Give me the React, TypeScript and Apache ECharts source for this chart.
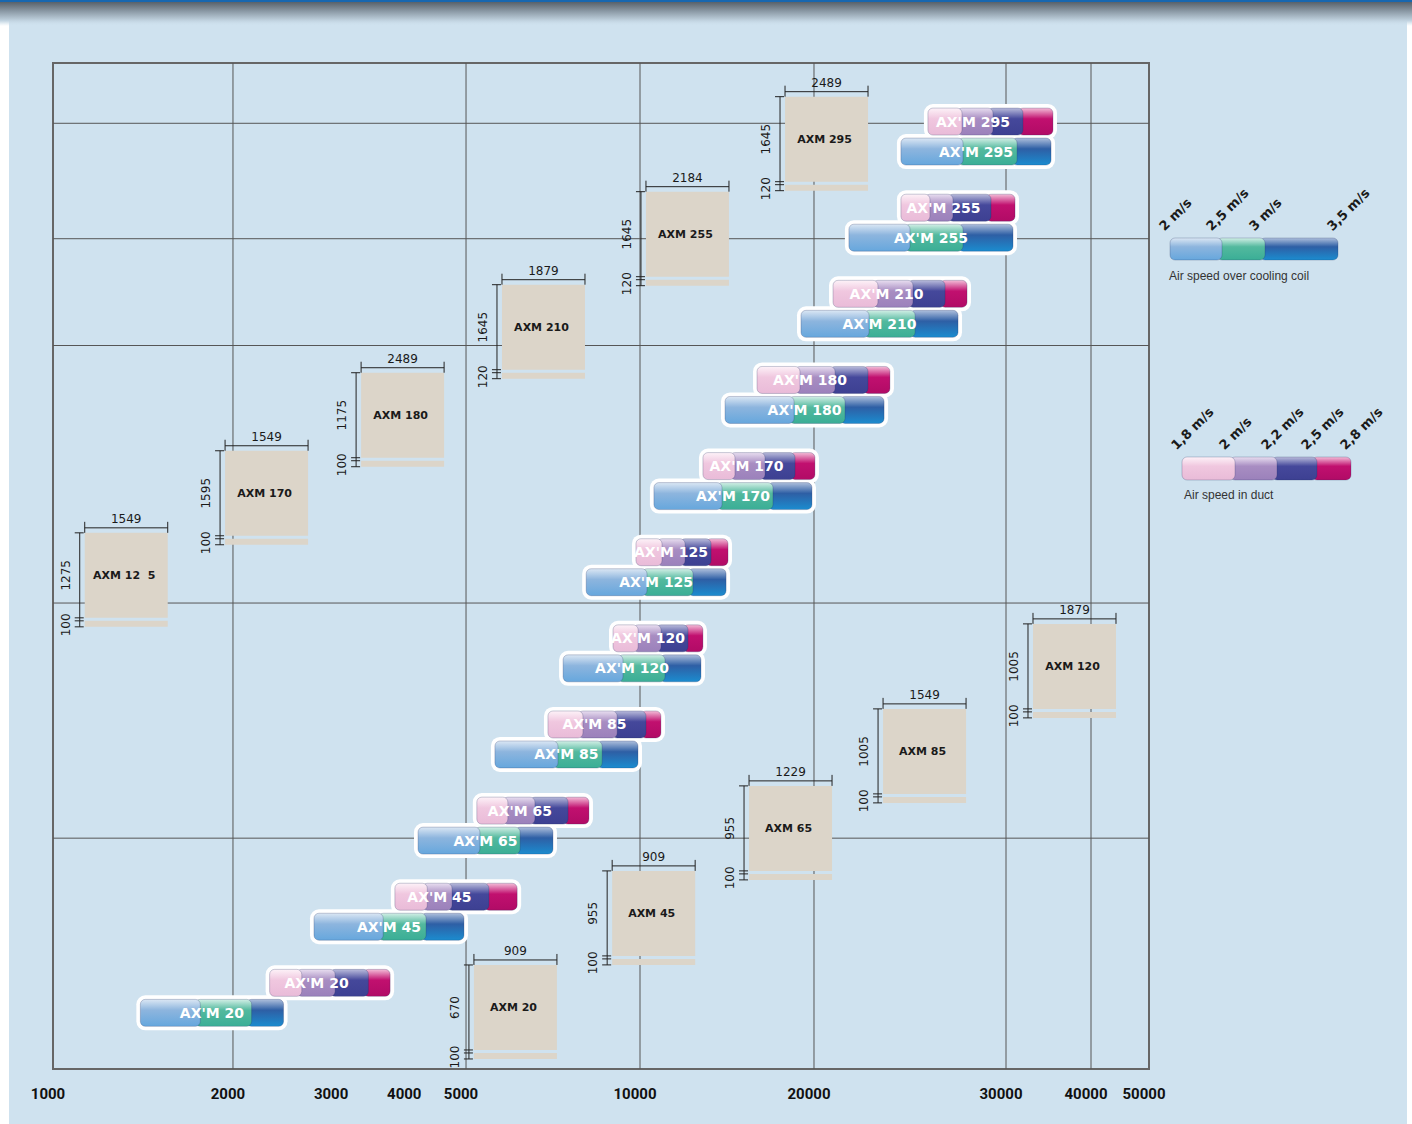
import React, { useEffect, useRef } from "react";
import * as echarts from "echarts";

// ---- x-axis scale (air flow, m³/h) ----
const scaleFlows = [1000, 2000, 5000, 10000, 20000, 30000, 40000, 50000];
const scaleStops = [0, 0.3066, 0.7036, 1, 1.2964, 1.6235, 1.7683, 1.8671];
const tickLabels = [1000, 2000, 3000, 4000, 5000, 10000, 20000, 30000, 40000, 50000];
const gridFlows = [2000, 5000, 10000, 20000, 30000, 40000];
const gridLevels = [10.98, 9.64, 8.4, 5.41, 2.68];
const yMax = 11.68;

// ---- AX'M units: air flow limits (m³/h) ----
const units = ["20", "45", "65", "85", "120", "125", "170", "180", "210", "255", "295"];
const ductAt18 = [2310, 3780, 5220, 6930, 8980, 9840, 12850, 15940, 20820, 24030, 25440];
const ductAt20 = [2570, 4210, 5790, 7810, 9730, 10700, 14310, 18540, 22650, 25280, 27050];
const ductAt22 = [2930, 4640, 6450, 8950, 10660, 11730, 16130, 20690, 24390, 26540, 28880];
const ductAt25 = [3340, 5370, 7360, 10040, 11870, 13010, 18180, 22180, 26100, 28760, 31240];
const ductAt28 = [3710, 6130, 8160, 10870, 12850, 14200, 20040, 23480, 27630, 30930, 35170];
const coilAt20 = [1400, 2750, 4140, 5610, 7360, 8070, 10570, 14030, 18990, 21530, 24030];
const coilAt25 = [1730, 3540, 5180, 7070, 9160, 10080, 13590, 18110, 22230, 24240, 27110];
const coilAt30 = [2110, 4190, 6080, 8430, 10830, 12110, 16650, 21130, 24500, 27110, 30620];
const coilAt35 = [2440, 4960, 7070, 9920, 12750, 14090, 19840, 23190, 27110, 30720, 34940];

// ---- AXM units (dimension boxes) ----
const boxNames = ["AXM 20", "AXM 45", "AXM 65", "AXM 85", "AXM 120", "AXM 12  5", "AXM 170", "AXM 180", "AXM 210", "AXM 255", "AXM 295"];
const boxFlow = [5160, 8950, 15440, 23140, 32870, 1130, 1940, 3310, 5770, 10240, 17820];
const boxLevel = [1.208, 2.3, 3.287, 4.181, 5.168, 6.225, 7.178, 8.084, 9.106, 10.186, 11.289];
const boxWidthMm = [909, 909, 1229, 1549, 1879, 1549, 1549, 2489, 1879, 2184, 2489];
const boxHeightMm = [670, 955, 955, 1005, 1005, 1275, 1595, 1175, 1645, 1645, 1645];
const boxBaseMm = [100, 100, 100, 100, 100, 100, 100, 100, 120, 120, 120];

// ---- legends ----
const coilSpeeds = ["2 m/s", "2,5 m/s", "3 m/s", "3,5 m/s"];
const ductSpeeds = ["1,8 m/s", "2 m/s", "2,2 m/s", "2,5 m/s", "2,8 m/s"];

const FD = '"DejaVu Sans", sans-serif';
const FR = 'Roboto, "Liberation Sans", sans-serif';
const FL = '"Liberation Sans", Arial, sans-serif';

const coilColors = [
  ["#dbe7f4", "#8db5de", "#66a7dd"],
  ["#d2efe6", "#53b99e", "#3aae96"],
  ["#aebfdc", "#2e5fa5", "#1b8ccf"],
];
const ductColors = [
  ["#fdf2f8", "#f0c7df", "#e9bbd8"],
  ["#e8def0", "#a88dc2", "#9b81bb"],
  ["#b9bbdb", "#45489b", "#3d4092"],
  ["#f3bdd8", "#c1106f", "#b10b66"],
];

function toScale(f: number): number {
  const n = scaleFlows.length;
  for (let i = 0; i < n - 1; i++) {
    const a = scaleFlows[i], b = scaleFlows[i + 1];
    if (f <= b || i === n - 2) {
      const t = Math.log(f / a) / Math.log(b / a);
      return scaleStops[i] + t * (scaleStops[i + 1] - scaleStops[i]);
    }
  }
  return 0;
}

function grad(c: string[]) {
  return new echarts.graphic.LinearGradient(0, 0, 0, 1, [
    { offset: 0, color: c[0] },
    { offset: 0.4, color: c[1] },
    { offset: 1, color: c[2] },
  ]);
}

function pill(xs: number[], y: number, h: number, colors: string[][], z?: number) {
  const els: any[] = [];
  for (let i = xs.length - 2; i >= 0; i--) {
    const x0 = xs[i];
    const x1 = xs[i + 1] + (i < xs.length - 2 ? 5 : 0);
    const el: any = {
      type: "rect",
      shape: { x: x0, y, width: x1 - x0, height: h, r: 5 },
      style: { fill: grad(colors[i]), stroke: "rgba(30,40,90,0.3)", lineWidth: 0.8 },
    };
    if (z !== undefined) el.z = z;
    els.push(el);
  }
  return els;
}

function txt(text: string, x: number, y: number, o: any = {}) {
  const el: any = {
    type: "text",
    x,
    y,
    rotation: o.rotation || 0,
    style: {
      text,
      fill: o.fill || "#1a1a1a",
      fontSize: o.fontSize || 12,
      fontWeight: o.fontWeight || "normal",
      fontFamily: o.fontFamily || FD,
      align: o.align || "center",
      textAlign: o.align || "center",
      verticalAlign: o.verticalAlign || "middle",
      textVerticalAlign: o.verticalAlign || "middle",
    },
  };
  if (o.z !== undefined) el.z = o.z;
  return el;
}

function line(x1: number, y1: number, x2: number, y2: number, stroke = "#222", lw = 1) {
  return { type: "line", shape: { x1, y1, x2, y2 }, style: { stroke, lineWidth: lw } };
}

function buildOption() {
  const xMax = scaleStops[scaleStops.length - 1];

  const unitRows = units.map((u, i) => [
    toScale(ductAt18[i]), toScale(ductAt20[i]), toScale(ductAt22[i]), toScale(ductAt25[i]), toScale(ductAt28[i]),
    toScale(coilAt20[i]), toScale(coilAt25[i]), toScale(coilAt30[i]), toScale(coilAt35[i]), i + 1,
  ]);
  const boxRows = boxNames.map((n, i) => [toScale(boxFlow[i]), boxLevel[i]]);

  // legends (graphic)
  const legend: any[] = [];
  const coilXs = [1170, 1217, 1260, 1338];
  legend.push(...pill(coilXs, 238, 22, coilColors, 5));
  coilSpeeds.forEach((s, i) =>
    legend.push(txt(s, coilXs[i] - 4, 233, { rotation: Math.PI / 4, align: "left", verticalAlign: "bottom", fontWeight: "bold", fontSize: 13, z: 5 }))
  );
  legend.push(txt("Air speed over cooling coil", 1169, 276, { align: "left", fontFamily: FL, fontSize: 12, fill: "#333", z: 5 }));
  const ductXs = [1182, 1230, 1272, 1312, 1351];
  legend.push(...pill(ductXs, 457, 23, ductColors, 5));
  ductSpeeds.forEach((s, i) =>
    legend.push(txt(s, ductXs[i] - 4, 452, { rotation: Math.PI / 4, align: "left", verticalAlign: "bottom", fontWeight: "bold", fontSize: 13, z: 5 }))
  );
  legend.push(txt("Air speed in duct", 1184, 495, { align: "left", fontFamily: FL, fontSize: 12, fill: "#333", z: 5 }));

  return {
    animation: false,
    backgroundColor: "#ffffff",
    graphic: {
      elements: [
        { type: "rect", z: -10, shape: { x: 9, y: 0, width: 1398, height: 1124 }, style: { fill: "#cfe2ef" } },
        {
          type: "rect",
          z: -9,
          shape: { x: 0, y: 0, width: 1412, height: 26 },
          style: {
            fill: new echarts.graphic.LinearGradient(0, 0, 0, 1, [
              { offset: 0, color: "#1767b0" },
              { offset: 0.06, color: "#1767b0" },
              { offset: 0.08, color: "#58626b" },
              { offset: 0.4, color: "#8694a0" },
              { offset: 0.8, color: "#c2d4e1" },
              { offset: 1, color: "rgba(207,226,239,0)" },
            ]),
          },
        },
        ...legend,
      ],
    },
    grid: {
      left: 53,
      top: 63,
      width: 1096,
      height: 1006,
      show: true,
      borderColor: "#666",
      borderWidth: 2,
      backgroundColor: "transparent",
      containLabel: false,
      outerBoundsMode: "none",
    },
    xAxis: {
      type: "value",
      min: 0,
      max: xMax,
      axisLine: { show: false },
      axisTick: { show: false },
      splitLine: { show: false },
      axisLabel: {
        customValues: tickLabels.map(toScale),
        showMinLabel: true,
        showMaxLabel: true,
        formatter: (v: number) => {
          let best = tickLabels[0];
          let bd = Infinity;
          for (const t of tickLabels) {
            const d = Math.abs(toScale(t) - v);
            if (d < bd) { bd = d; best = t; }
          }
          return String(best);
        },
        color: "#111",
        fontWeight: "bold",
        fontSize: 15,
        fontFamily: FR,
        margin: 17,
        padding: [0, 10, 0, 0],
      },
    },
    yAxis: { type: "value", min: 0, max: yMax, show: false },
    series: [
      {
        type: "custom",
        name: "gridV",
        silent: true,
        z: 1,
        data: gridFlows.map((f) => [toScale(f), 0]),
        renderItem: (params: any, api: any) => {
          const a = api.coord([api.value(0), 0]);
          const b = api.coord([api.value(0), yMax]);
          return line(a[0], a[1], b[0], b[1], "#565656", 1);
        },
      },
      {
        type: "custom",
        name: "gridH",
        silent: true,
        z: 1,
        data: gridLevels.map((l) => [0, l]),
        renderItem: (params: any, api: any) => {
          const a = api.coord([0, api.value(1)]);
          const b = api.coord([xMax, api.value(1)]);
          return line(a[0], a[1], b[0], b[1], "#565656", 1);
        },
      },
      {
        type: "custom",
        name: "AXM",
        silent: true,
        z: 2,
        data: boxRows,
        renderItem: (params: any, api: any) => {
          const i = params.dataIndex;
          const [x, y] = api.coord([api.value(0), api.value(1)]);
          const w = 83, h = 85;
          const vx = x - 5;
          return {
            type: "group",
            children: [
              { type: "rect", shape: { x, y, width: w, height: h }, style: { fill: "#dcd5c9" } },
              { type: "rect", shape: { x, y: y + 88, width: w, height: 6 }, style: { fill: "#dcd5c9" } },
              txt(boxNames[i], x + w / 2 - 2, y + h / 2, { fontWeight: "bold", fontSize: 11 }),
              line(x, y - 5, x + w, y - 5),
              line(x, y - 11, x, y),
              line(x + w, y - 11, x + w, y),
              txt(String(boxWidthMm[i]), x + w / 2, y - 8, { verticalAlign: "bottom", fontSize: 12 }),
              line(vx, y, vx, y + 94),
              line(vx - 5, y, vx + 4, y),
              line(vx - 5, y + 85, vx + 4, y + 85),
              line(vx - 5, y + 88, vx + 4, y + 88),
              line(vx - 5, y + 94, vx + 4, y + 94),
              txt(String(boxHeightMm[i]), x - 19, y + h / 2, { rotation: Math.PI / 2, fontSize: 12 }),
              txt(String(boxBaseMm[i]), x - 19, y + 92, { rotation: Math.PI / 2, fontSize: 12 }),
            ],
          };
        },
      },
      {
        type: "custom",
        name: "AX'M",
        silent: true,
        z: 3,
        encode: { x: 0, y: 9 },
        data: unitRows,
        renderItem: (params: any, api: any) => {
          const lvl = api.value(9);
          const px = (k: number) => api.coord([api.value(k), lvl])[0];
          const d = [0, 1, 2, 3, 4].map(px);
          const c = [5, 6, 7, 8].map(px);
          const yc = api.coord([api.value(0), lvl])[1];
          const H = 27;
          const dTop = yc - H / 2;
          const cTop = yc + 30 - H / 2;
          const name = "AX'M " + units[params.dataIndex];
          return {
            type: "group",
            children: [
              { type: "rect", shape: { x: d[0] - 4, y: dTop - 4, width: d[4] - d[0] + 8, height: H + 8, r: 9 }, style: { fill: "#ffffff" } },
              { type: "rect", shape: { x: c[0] - 4, y: cTop - 4, width: c[3] - c[0] + 8, height: H + 8, r: 9 }, style: { fill: "#ffffff" } },
              ...pill(c, cTop, H, coilColors),
              ...pill(d, dTop, H, ductColors),
              txt(name, (d[0] + d[3]) / 2, yc, { fill: "#ffffff", fontWeight: "bold", fontSize: 14 }),
              txt(name, (c[0] + c[3]) / 2, yc + 30, { fill: "#ffffff", fontWeight: "bold", fontSize: 14 }),
            ],
          };
        },
      },
    ],
  };
}

export default function App() {
  const ref = useRef<HTMLDivElement>(null);
  useEffect(() => {
    if (!ref.current) return;
    const chart = echarts.init(ref.current, null, { renderer: "svg" });
    chart.setOption(buildOption() as any);
    return () => chart.dispose();
  }, []);
  return (
    <div
      ref={ref}
      style={{ position: "fixed", left: 0, top: 0, width: 1412, height: 1124 }}
    />
  );
}
